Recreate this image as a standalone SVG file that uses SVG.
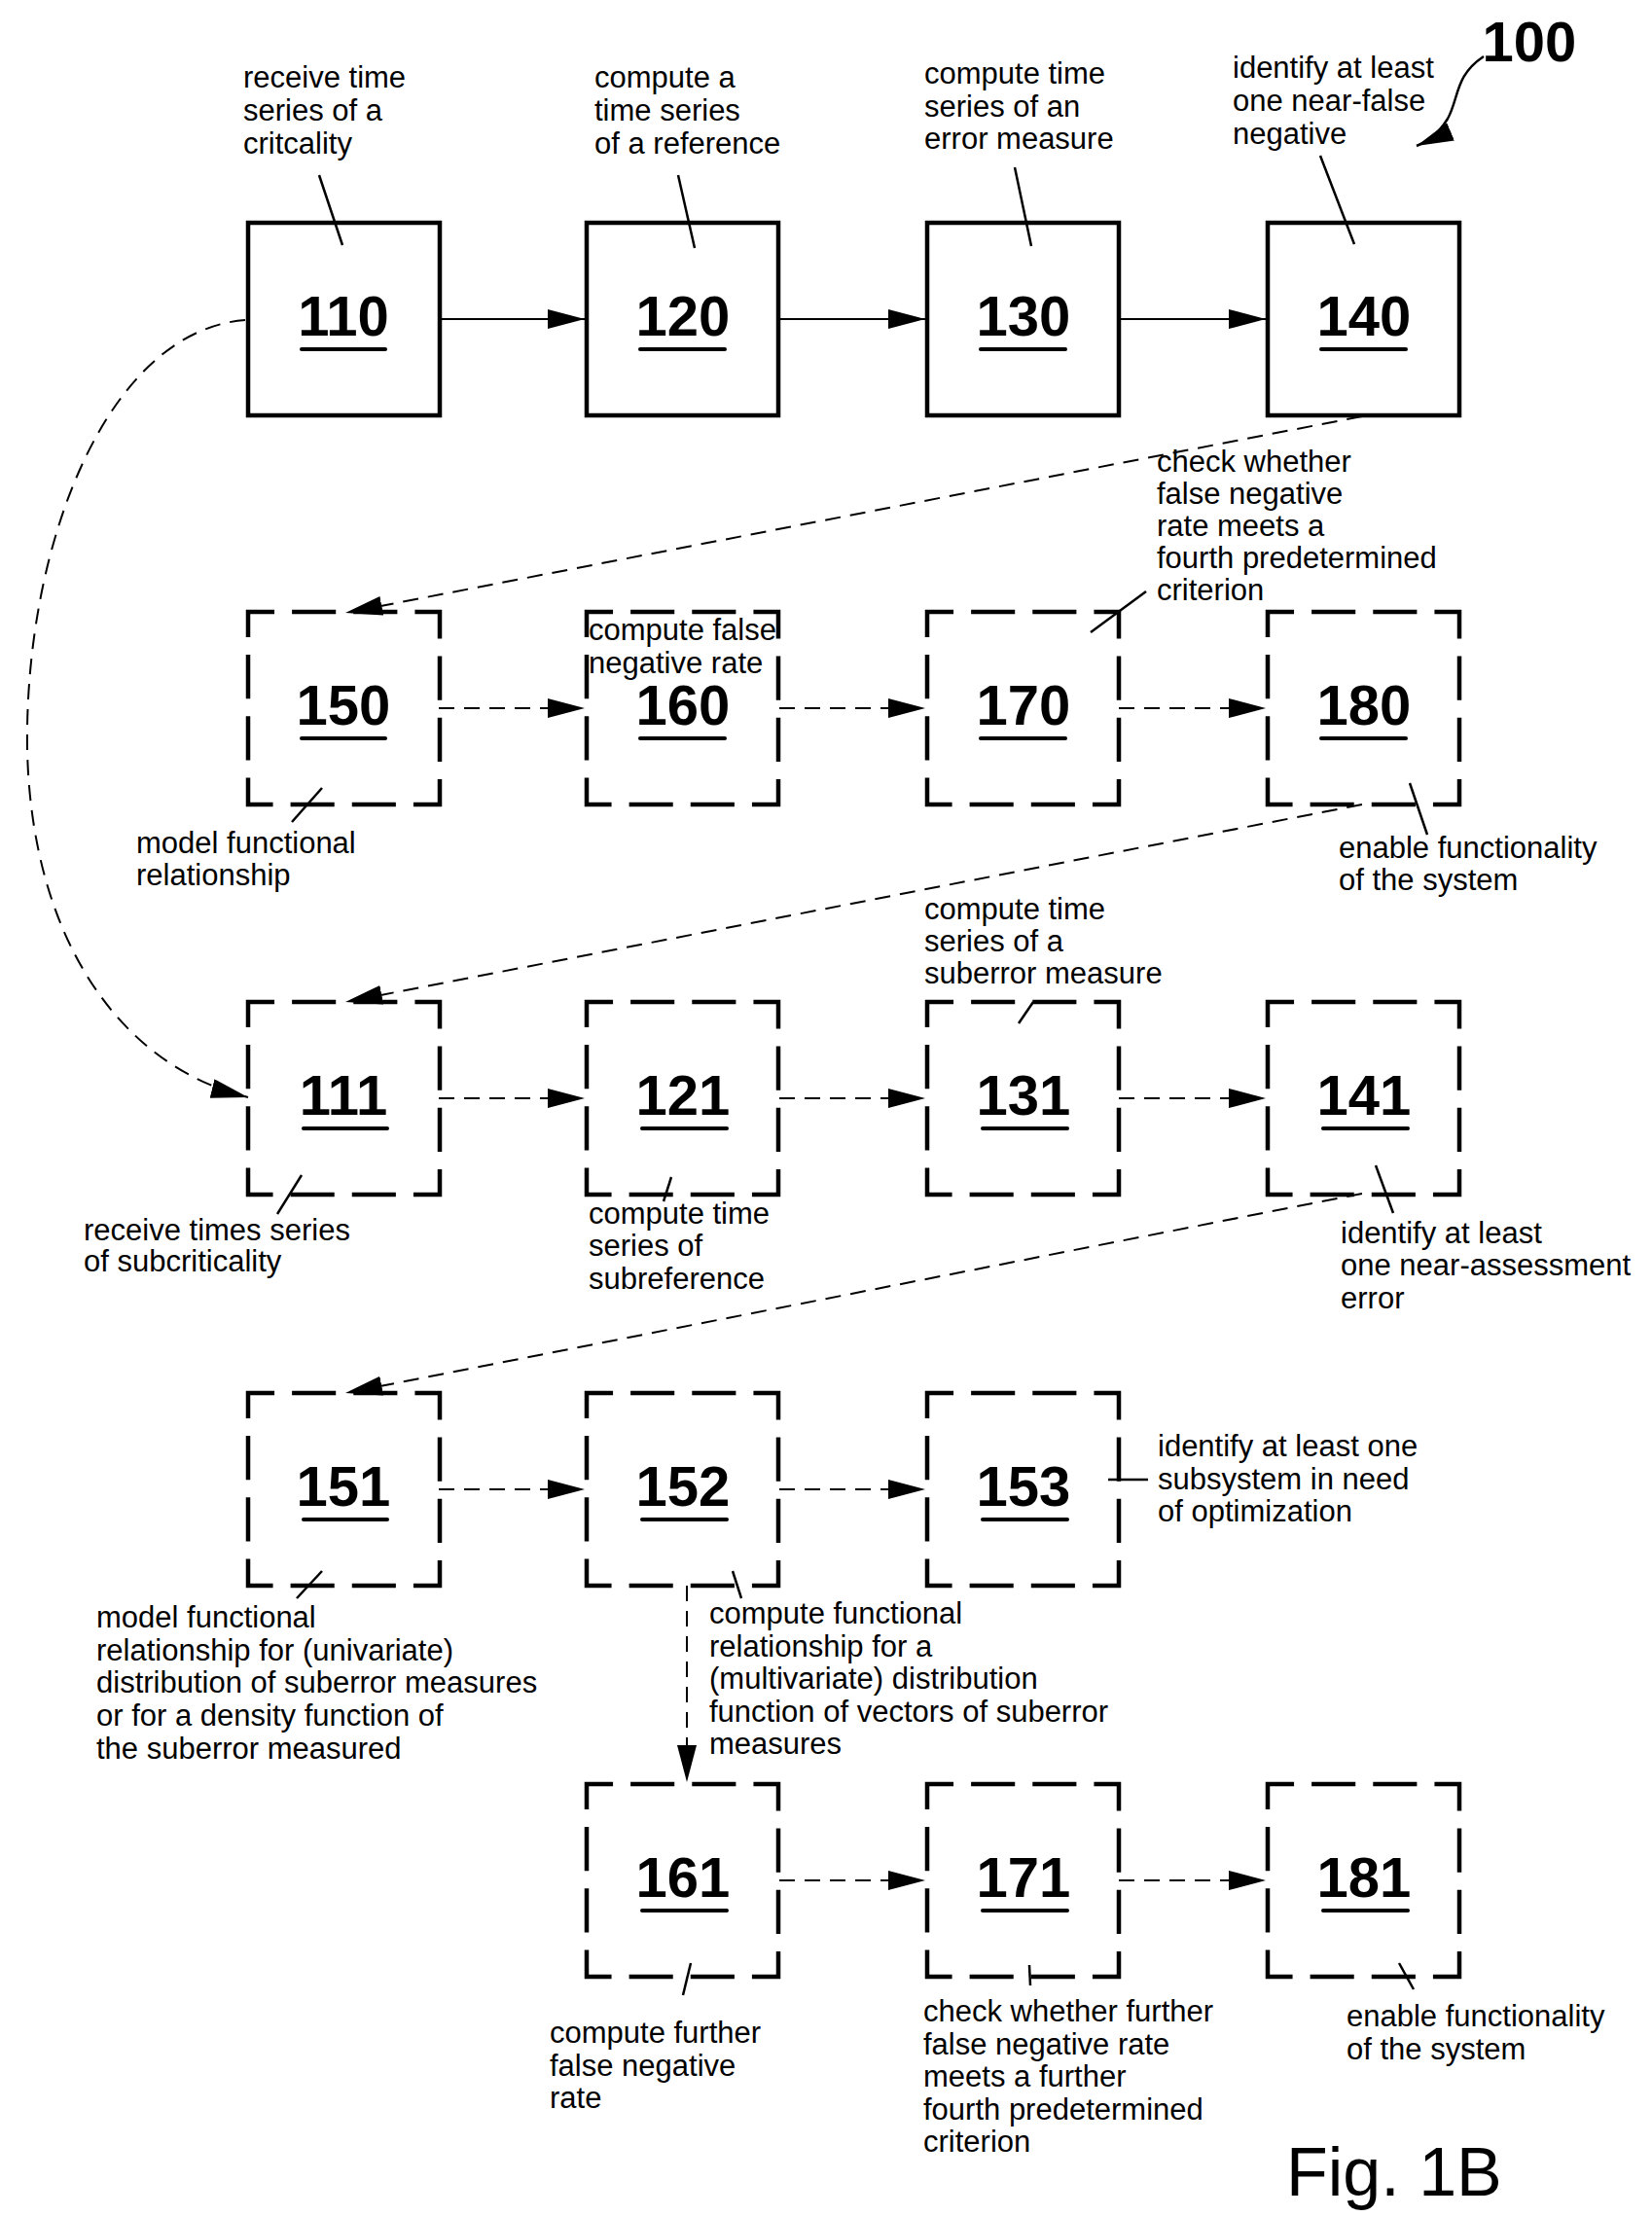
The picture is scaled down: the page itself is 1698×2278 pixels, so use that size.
<svg xmlns="http://www.w3.org/2000/svg" width="1698" height="2278" viewBox="0 0 1698 2278">
<style>
.bs{fill:none;stroke:#000;stroke-width:4.5}
.bd{fill:none;stroke:#000;stroke-width:4.5;stroke-dasharray:53 18 45 18 45 18;stroke-dashoffset:26}
.num{font-family:"Liberation Sans Narrow","Arial Narrow","Liberation Sans",sans-serif;font-weight:bold;font-size:58px;text-anchor:middle}
.ul{stroke:#000;stroke-width:4;stroke-linecap:round}
.lb{font-family:"Liberation Sans Narrow","Arial Narrow","Liberation Sans",sans-serif;font-size:31px}
.ld{stroke:#000;stroke-width:2.5;fill:none}
.cs{stroke:#000;stroke-width:2;fill:none}
.cd{stroke:#000;stroke-width:2;fill:none;stroke-dasharray:16 10}
</style>
<defs>
<marker id="ah" markerUnits="userSpaceOnUse" markerWidth="40" markerHeight="22" refX="38" refY="10" orient="auto">
<path d="M0,0 L38,10 L0,20 Z" fill="#000"/>
</marker>
</defs>
<g id="connectors">
<path class="cs" d="M451 328 H601" marker-end="url(#ah)"/>
<path class="cs" d="M801 328 H951" marker-end="url(#ah)"/>
<path class="cs" d="M1150 328 H1301" marker-end="url(#ah)"/>
<path class="cd" d="M451 728 H601" marker-end="url(#ah)"/>
<path class="cd" d="M801 728 H951" marker-end="url(#ah)"/>
<path class="cd" d="M1150 728 H1301" marker-end="url(#ah)"/>
<path class="cd" d="M451 1129 H601" marker-end="url(#ah)"/>
<path class="cd" d="M801 1129 H951" marker-end="url(#ah)"/>
<path class="cd" d="M1150 1129 H1301" marker-end="url(#ah)"/>
<path class="cd" d="M451 1531 H601" marker-end="url(#ah)"/>
<path class="cd" d="M801 1531 H951" marker-end="url(#ah)"/>
<path class="cd" d="M801 1933 H951" marker-end="url(#ah)"/>
<path class="cd" d="M1150 1933 H1301" marker-end="url(#ah)"/>
<path class="cd" d="M1400 428 L355 630" marker-end="url(#ah)"/>
<path class="cd" d="M1400 827 L355 1030" marker-end="url(#ah)"/>
<path class="cd" d="M1400 1227 L355 1432" marker-end="url(#ah)"/>
<path class="cd" d="M706 1630 V1832" marker-end="url(#ah)"/>
<path class="cd" d="M252 329 C110 340 25 560 28 770 C32 960 120 1095 255 1128" marker-end="url(#ah)"/>
<path class="ld" d="M1525 58 C1495 78 1500 100 1488 122 C1478 138 1468 145 1456 150" marker-end="url(#ah)"/>
</g>
<g id="n110"><rect class="bs" x="255" y="229" width="197" height="198"/><text class="num" x="353" y="345">110</text><line class="ul" x1="310" y1="359" x2="396" y2="359"/>
<text class="lb" x="250"><tspan x="250" y="90">receive time</tspan><tspan x="250" y="124">series of a</tspan><tspan x="250" y="158">critcality</tspan></text><line class="ld" x1="328" y1="180" x2="352" y2="252"/></g>
<g id="n120"><rect class="bs" x="603" y="229" width="197" height="198"/><text class="num" x="702" y="345">120</text><line class="ul" x1="658" y1="359" x2="745" y2="359"/>
<text class="lb"><tspan x="611" y="90">compute a</tspan><tspan x="611" y="124">time series</tspan><tspan x="611" y="158">of a reference</tspan></text><line class="ld" x1="697" y1="180" x2="714" y2="255"/></g>
<g id="n130"><rect class="bs" x="953" y="229" width="197" height="198"/><text class="num" x="1052" y="345">130</text><line class="ul" x1="1008" y1="359" x2="1095" y2="359"/>
<text class="lb"><tspan x="950" y="86">compute time</tspan><tspan x="950" y="120">series of an</tspan><tspan x="950" y="153">error measure</tspan></text><line class="ld" x1="1043" y1="172" x2="1060" y2="253"/></g>
<g id="n140"><rect class="bs" x="1303" y="229" width="197" height="198"/><text class="num" x="1402" y="345">140</text><line class="ul" x1="1358" y1="359" x2="1445" y2="359"/>
<text class="lb"><tspan x="1267" y="80">identify at least</tspan><tspan x="1267" y="114">one near-false</tspan><tspan x="1267" y="148">negative</tspan></text><line class="ld" x1="1357" y1="160" x2="1392" y2="251"/></g>
<g id="n100"><text class="num" x="1572" y="63">100</text></g>
<g id="n150"><rect class="bd" pathLength="788" x="255" y="629" width="197" height="198"/><text class="num" x="353" y="745">150</text><line class="ul" x1="310" y1="759" x2="396" y2="759"/>
<text class="lb"><tspan x="140" y="877">model functional</tspan><tspan x="140" y="910">relationship</tspan></text><line class="ld" x1="331" y1="810" x2="300" y2="845"/></g>
<g id="n160"><rect class="bd" pathLength="788" x="603" y="629" width="197" height="198"/><text class="num" x="702" y="745">160</text><line class="ul" x1="658" y1="759" x2="745" y2="759"/>
<text class="lb"><tspan x="605" y="658">compute false</tspan><tspan x="605" y="692">negative rate</tspan></text></g>
<g id="n170"><rect class="bd" pathLength="788" x="953" y="629" width="197" height="198"/><text class="num" x="1052" y="745">170</text><line class="ul" x1="1008" y1="759" x2="1095" y2="759"/>
<text class="lb"><tspan x="1189" y="485">check whether</tspan><tspan x="1189" y="518">false negative</tspan><tspan x="1189" y="551">rate meets a</tspan><tspan x="1189" y="584">fourth predetermined</tspan><tspan x="1189" y="617">criterion</tspan></text><line class="ld" x1="1178" y1="608" x2="1121" y2="650"/></g>
<g id="n180"><rect class="bd" pathLength="788" x="1303" y="629" width="197" height="198"/><text class="num" x="1402" y="745">180</text><line class="ul" x1="1358" y1="759" x2="1445" y2="759"/>
<text class="lb"><tspan x="1376" y="882">enable functionality</tspan><tspan x="1376" y="915">of the system</tspan></text><line class="ld" x1="1449" y1="805" x2="1467" y2="858"/></g>
<g id="n111"><rect class="bd" pathLength="788" x="255" y="1030" width="197" height="198"/><text class="num" x="353" y="1146">111</text><line class="ul" x1="312" y1="1160" x2="398" y2="1160"/>
<text class="lb"><tspan x="86" y="1275">receive times series</tspan><tspan x="86" y="1307">of subcriticality</tspan></text><line class="ld" x1="310" y1="1208" x2="285" y2="1248"/></g>
<g id="n121"><rect class="bd" pathLength="788" x="603" y="1030" width="197" height="198"/><text class="num" x="702" y="1146">121</text><line class="ul" x1="660" y1="1160" x2="747" y2="1160"/>
<text class="lb"><tspan x="605" y="1258">compute time</tspan><tspan x="605" y="1291">series of</tspan><tspan x="605" y="1325">subreference</tspan></text><line class="ld" x1="690" y1="1210" x2="682" y2="1235"/></g>
<g id="n131"><rect class="bd" pathLength="788" x="953" y="1030" width="197" height="198"/><text class="num" x="1052" y="1146">131</text><line class="ul" x1="1010" y1="1160" x2="1097" y2="1160"/>
<text class="lb"><tspan x="950" y="945">compute time</tspan><tspan x="950" y="978">series of a</tspan><tspan x="950" y="1011">suberror measure</tspan></text><line class="ld" x1="1062" y1="1030" x2="1047" y2="1052"/></g>
<g id="n141"><rect class="bd" pathLength="788" x="1303" y="1030" width="197" height="198"/><text class="num" x="1402" y="1146">141</text><line class="ul" x1="1360" y1="1160" x2="1447" y2="1160"/>
<text class="lb"><tspan x="1378" y="1278">identify at least</tspan><tspan x="1378" y="1311">one near-assessment</tspan><tspan x="1378" y="1345">error</tspan></text><line class="ld" x1="1414" y1="1198" x2="1432" y2="1247"/></g>
<g id="n151"><rect class="bd" pathLength="788" x="255" y="1432" width="197" height="198"/><text class="num" x="353" y="1548">151</text><line class="ul" x1="312" y1="1562" x2="398" y2="1562"/>
<text class="lb"><tspan x="99" y="1673">model functional</tspan><tspan x="99" y="1707">relationship for (univariate)</tspan><tspan x="99" y="1740">distribution of suberror measures</tspan><tspan x="99" y="1774">or for a density function of</tspan><tspan x="99" y="1808">the suberror measured</tspan></text><line class="ld" x1="331" y1="1615" x2="305" y2="1643"/></g>
<g id="n152"><rect class="bd" pathLength="788" x="603" y="1432" width="197" height="198"/><text class="num" x="702" y="1548">152</text><line class="ul" x1="660" y1="1562" x2="747" y2="1562"/>
<text class="lb"><tspan x="729" y="1669">compute functional</tspan><tspan x="729" y="1703">relationship for a</tspan><tspan x="729" y="1736">(multivariate) distribution</tspan><tspan x="729" y="1770">function of vectors of suberror</tspan><tspan x="729" y="1803">measures</tspan></text><line class="ld" x1="753" y1="1615" x2="762" y2="1643"/></g>
<g id="n153"><rect class="bd" pathLength="788" x="953" y="1432" width="197" height="198"/><text class="num" x="1052" y="1548">153</text><line class="ul" x1="1010" y1="1562" x2="1097" y2="1562"/>
<text class="lb"><tspan x="1190" y="1497">identify at least one</tspan><tspan x="1190" y="1531">subsystem in need</tspan><tspan x="1190" y="1564">of optimization</tspan></text><line class="ld" x1="1139" y1="1521" x2="1180" y2="1521"/></g>
<g id="n161"><rect class="bd" pathLength="788" x="603" y="1834" width="197" height="198"/><text class="num" x="702" y="1950">161</text><line class="ul" x1="660" y1="1964" x2="747" y2="1964"/>
<text class="lb"><tspan x="565" y="2100">compute further</tspan><tspan x="565" y="2134">false negative</tspan><tspan x="565" y="2167">rate</tspan></text><line class="ld" x1="710" y1="2018" x2="702" y2="2051"/></g>
<g id="n171"><rect class="bd" pathLength="788" x="953" y="1834" width="197" height="198"/><text class="num" x="1052" y="1950">171</text><line class="ul" x1="1010" y1="1964" x2="1097" y2="1964"/>
<text class="lb"><tspan x="949" y="2078">check whether further</tspan><tspan x="949" y="2112">false negative rate</tspan><tspan x="949" y="2145">meets a further</tspan><tspan x="949" y="2179">fourth predetermined</tspan><tspan x="949" y="2212">criterion</tspan></text><line class="ld" x1="1058" y1="2020" x2="1059" y2="2041"/></g>
<g id="n181"><rect class="bd" pathLength="788" x="1303" y="1834" width="197" height="198"/><text class="num" x="1402" y="1950">181</text><line class="ul" x1="1360" y1="1964" x2="1447" y2="1964"/>
<text class="lb"><tspan x="1384" y="2083">enable functionality</tspan><tspan x="1384" y="2117">of the system</tspan></text><line class="ld" x1="1438" y1="2018" x2="1453" y2="2045"/></g>
<g id="fig"><text x="1322" y="2257" font-family="Liberation Sans, Arial, sans-serif" font-size="70">Fig. 1B</text></g>
</svg>
